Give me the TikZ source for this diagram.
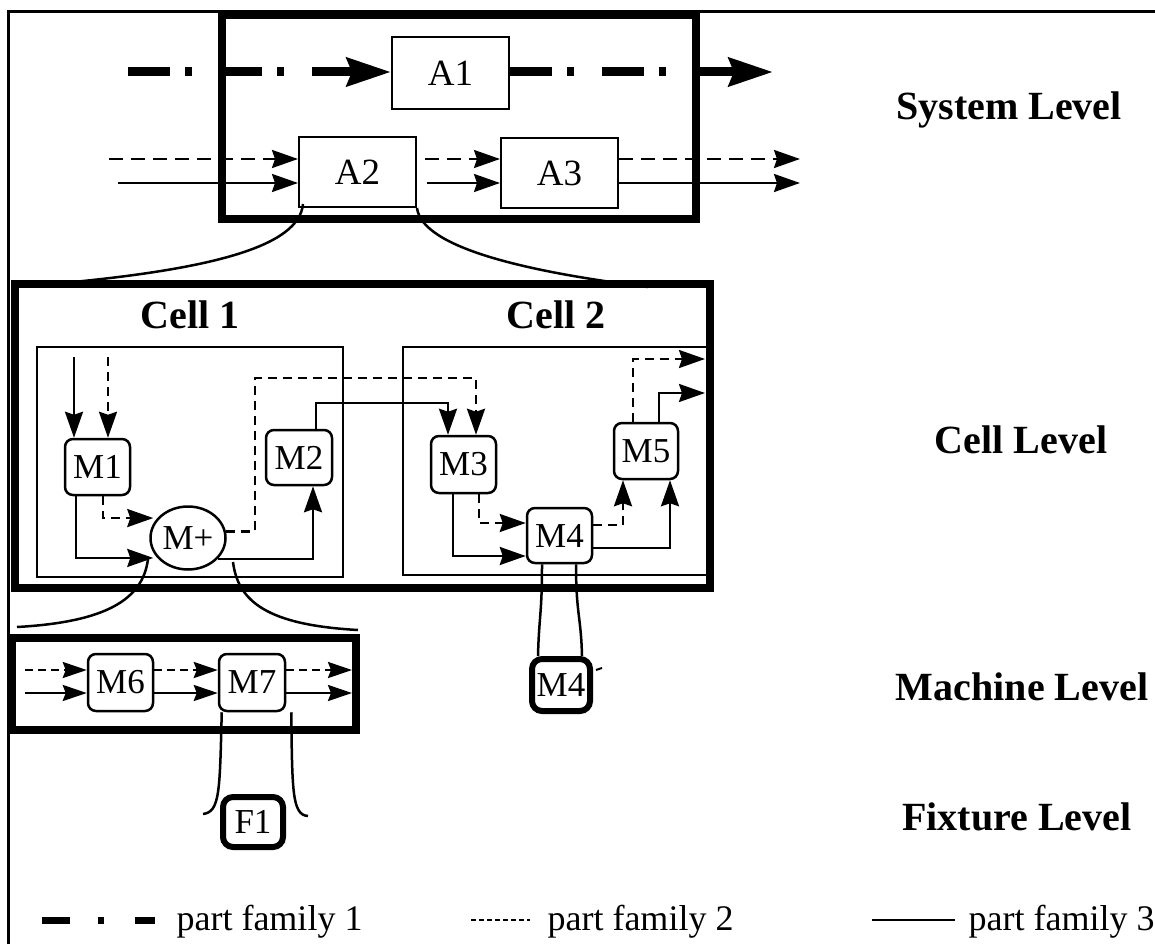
\documentclass[tikz,border=0pt]{standalone}
\usepackage{fontspec}
\setmainfont{Liberation Serif}
\usetikzlibrary{arrows.meta,shapes.geometric,calc}
\begin{document}
\begin{tikzpicture}[x=1pt,y=-1pt,
  abox/.style={draw, line width=2pt, inner sep=0pt, font=\fontsize{37}{37}\selectfont},
  mbox/.style={draw, rounded corners=8pt, line width=2.5pt, inner sep=0pt, font=\fontsize{35}{35}\selectfont},
  tbox/.style={draw, rounded corners=10pt, line width=6pt, inner sep=0pt, font=\fontsize{35}{35}\selectfont},
  thickframe/.style={draw, line width=7.5pt, inner sep=0pt},
  thinframe/.style={draw, line width=2.5pt, inner sep=0pt},
  lvl/.style={font=\fontsize{40}{40}\selectfont\bfseries, anchor=base},
  legtext/.style={font=\fontsize{36}{36}\selectfont, anchor=base west},
  famA/.style={line width=9pt, dash pattern=on 42pt off 15pt on 7pt off 28pt},
  famB/.style={line width=2.5pt, dash pattern=on 14pt off 8pt},
  famC/.style={line width=2.5pt},
  famD/.style={line width=2.5pt, dash pattern=on 9pt off 6pt},
  famE/.style={line width=2.5pt, dash pattern=on 8pt off 5pt},
  link/.style={line width=2.5pt},
  bigtip/.style={-{Stealth[length=44pt,width=28pt,inset=5pt]}},
  tip/.style={-{Stealth[length=26pt,width=18pt,inset=3pt]}},
  stip/.style={-{Stealth[length=24pt,width=16pt,inset=3pt]}}
]
\useasboundingbox (0,0) rectangle (1155,944);

% outer frame
\coordinate (frB) at (8,944);
\coordinate (frTL) at (8,12);
\coordinate (frTR) at (1155,12);
\draw[line width=3pt] (frB) -- (frTL) -- (frTR);

% ---------------- system level
\node[thickframe, minimum width=474pt, minimum height=204pt] (sys) at (459,117) {};
\node[abox, minimum width=117pt, minimum height=72pt] (A1) at (450.5,73) {A1};
\node[abox, minimum width=117pt, minimum height=70pt] (A2) at (357.5,172) {A2};
\node[abox, minimum width=117pt, minimum height=70pt] (A3) at (559.5,173) {A3};

\coordinate (f1s) at (128,72);
\coordinate (f1e) at (773,72);
\draw[famA, bigtip] (f1s) -- (f1s -| A1.west);
\draw[famA, bigtip] (f1s -| A1.east) -- (f1e);

\coordinate (f2s) at (109,159);
\coordinate (f2e) at (800,159);
\draw[famB, tip] (f2s) -- (f2s -| A2.west);
\draw[famB, tip, shorten <=8pt] (f2s -| A2.east) -- (f2s -| A3.west);
\draw[famB, tip] (f2s -| A3.east) -- (f2e);

\coordinate (f3s) at (118,183);
\coordinate (f3e) at (800,183);
\draw[famC, tip] (f3s) -- (f3s -| A2.west);
\draw[famC, tip, shorten <=10pt] (f3s -| A2.east) -- (f3s -| A3.west);
\draw[famC, tip] (f3s -| A3.east) -- (f3e);

% zoom curves A2 -> cell level
\coordinate (cl1) at (15,287);
\coordinate (cr1) at (648,287);
\draw[link] ($(A2.south west)+(5,-4)$) .. controls +(-4,42) and +(200,-15) .. (cl1);
\draw[link] (A2.south east) .. controls +(5,40) and +(-120,-15) .. (cr1);

% ---------------- cell level
\node[thickframe, minimum width=695pt, minimum height=304pt] (cells) at (362.5,436) {};
\node[lvl] (c1lab) at (190,328) {Cell 1};
\node[lvl] (c2lab) at (556,328) {Cell 2};
\node[thinframe, minimum width=306pt, minimum height=230pt] (cellA) at (190,462) {};
\node[thinframe, minimum width=304pt, minimum height=228pt] (cellB) at (555,461) {};

\node[mbox, minimum width=65pt, minimum height=56pt] (M1) at (97.5,467) {M1};
\node[mbox, minimum width=66pt, minimum height=55pt] (M2) at (299,457.5) {M2};
\node[draw, ellipse, line width=2.5pt, inner sep=0pt, minimum width=75pt, minimum height=63pt,
      font=\fontsize{35}{35}\selectfont] (Mp) at (188,538) {M+};
\node[mbox, minimum width=65pt, minimum height=57pt] (M3) at (463.5,464.5) {M3};
\node[mbox, minimum width=65pt, minimum height=55pt] (M4) at (559.5,535.5) {M4};
\node[mbox, minimum width=64pt, minimum height=56pt] (M5) at (646,451) {M5};

% cell 1 flows
\coordinate (in1) at (74,357);
\coordinate (in2) at (108,357);
\draw[famC, tip] (in1) -- (in1 |- M1.north);
\draw[famD, tip] (in2) -- (in2 |- M1.north);
\draw[famC, tip, shorten >=4pt] ($(M1.south)+(-21.5,0)$) |- (Mp.213);
\draw[famD, tip, shorten >=4pt] ($(M1.south)+(5.5,0)$) |- (Mp.147);
\draw[famC, tip] (Mp.-35) -| ($(M2.south)+(14,0)$);
\coordinate (r1) at (255,378);
\draw[famD, tip] (Mp.10) -| (r1) -| ($(M3.north)+(12.5,0)$);
\coordinate (r2) at (448,403);
\draw[famC, tip] ($(M2.north)+(17,0)$) |- (r2) -- (r2 |- M3.north);

% cell 2 flows
\draw[famC, tip] ($(M3.south)+(-10.5,0)$) |- ($(M4.west)+(0,20.5)$);
\draw[famD, tip] ($(M3.south)+(15.5,0)$) |- ($(M4.west)+(0,-12.5)$);
\draw[famD, tip] ($(M4.east)+(0,-10.5)$) -| ($(M5.south)+(-23,0)$);
\draw[famC, tip] ($(M4.east)+(0,12.5)$) -| ($(M5.south)+(24,0)$);
\coordinate (o1) at (705,359);
\coordinate (o2) at (705,393);
\draw[famD, tip] ($(M5.north)+(-13,0)$) |- (o1);
\draw[famC, tip] ($(M5.north)+(13,0)$) |- (o2);

% M4 detail
\node[tbox, minimum width=58pt, minimum height=52pt] (L4) at (561,685) {M4};
\draw[link] ($(M4.south)+(-17.5,0)$) .. controls +(0,50) and +(1,-40) .. ($(L4.north)+(-23,0)$);
\draw[link] ($(M4.south)+(16.5,0)$) .. controls +(0,50) and +(-1,-40) .. ($(L4.north)+(21,0)$);
\draw[line width=2pt] ($(L4.east)+(3,-15)$) -- +(6,-2);

% zoom curves M+ -> machine level
\coordinate (ml) at (17,627);
\coordinate (mr) at (358,630);
\draw[link] ($(Mp.center)+(-40,21)$) .. controls +(-5,40) and +(90,-5) .. (ml);
\draw[link] ($(Mp.center)+(45,24)$) .. controls +(5,40) and +(-90,-5) .. (mr);

% ---------------- machine level
\node[thickframe, minimum width=344pt, minimum height=92pt] (mach) at (184,684) {};
\node[mbox, minimum width=65pt, minimum height=57pt] (M6) at (120.5,682.5) {M6};
\node[mbox, minimum width=66pt, minimum height=57pt] (M7) at (252,682.5) {M7};
\coordinate (md) at (25,670);
\coordinate (ms) at (25,693);
\coordinate (mde) at (352,670);
\coordinate (mse) at (352,693);
\draw[famE, stip] (md) -- (md -| M6.west);
\draw[famE, stip] (md -| M6.east) -- (md -| M7.west);
\draw[famE, stip] (md -| M7.east) -- (mde);
\draw[famC, stip] (ms) -- (ms -| M6.west);
\draw[famC, stip] (ms -| M6.east) -- (ms -| M7.west);
\draw[famC, stip] (ms -| M7.east) -- (mse);

% ---------------- fixture level
\node[tbox, minimum width=60pt, minimum height=50pt] (F1) at (253,822) {F1};
\coordinate (hl) at (203,814);
\coordinate (hr) at (308,816);
\draw[link] ($(M7.south west)+(4,0)$) .. controls +(-2,79) and +(17,-2) .. (hl);
\draw[link] ($(M7.south east)+(5,0)$) .. controls +(1,79) and +(-16,-1) .. (hr);

% ---------------- level labels
\node[lvl] (lsys) at (1009,120) {System Level};
\node[lvl] (lcell) at (1021,453) {Cell Level};
\node[lvl] (lmach) at (1022,700) {Machine Level};
\node[lvl] (lfix) at (1017,830) {Fixture Level};

% ---------------- legend
\coordinate (la1) at (42,920);
\coordinate (la2) at (155,920);
\draw[line width=7pt, dash pattern=on 28pt off 28pt on 6pt off 31pt] (la1) -- (la2);
\node[legtext] (lt1) at (173,930) {part family 1};
\coordinate (lb1) at (471,920);
\coordinate (lb2) at (530,920);
\draw[line width=2pt, dash pattern=on 5pt off 3pt] (lb1) -- (lb2);
\node[legtext] (lt2) at (544,930) {part family 2};
\coordinate (lc1) at (872,920);
\coordinate (lc2) at (955,920);
\draw[line width=2.5pt] (lc1) -- (lc2);
\node[legtext] (lt3) at (965,930) {part family 3};
\end{tikzpicture}
\end{document}
